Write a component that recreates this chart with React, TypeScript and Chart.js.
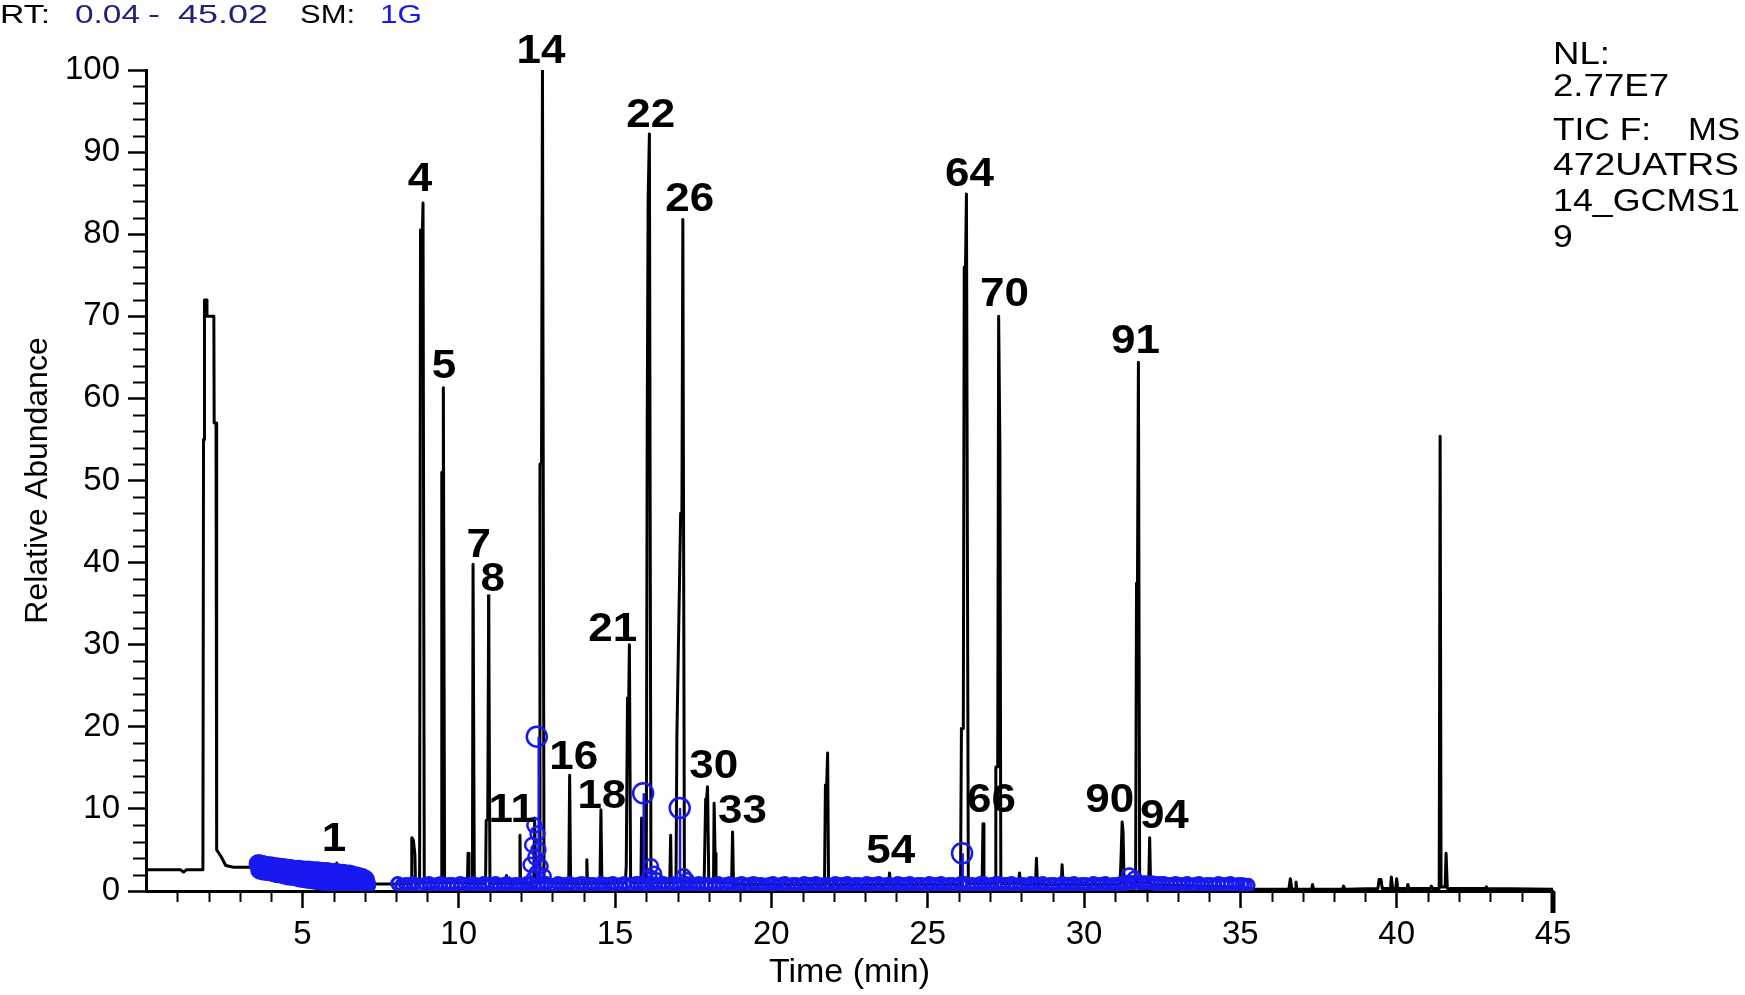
import React, { useEffect, useRef } from 'react';
import { Chart, registerables } from 'chart.js';

Chart.register(...registerables);

const FONT = '"Liberation Sans", Arial, Helvetica, sans-serif';
const BLUE = '#1818f0';
const NAVY = '#22207e';

// ---- axis ranges ----
const xMin = 0;
const xMax = 45;
const xMajorStep = 5;
const xMinorStep = 1;
const yMin = 0;
const yMax = 100;
const yMajorStep = 10;
const yMinorStep = 2;

// ---- TIC trace: [retention time (min), relative abundance] ----
const tracePoints: [number, number][] = [
  [0.05, 2.6], [1.1, 2.6], [1.2, 2.3], [1.3, 2.6], [1.82, 2.6], [1.84, 55], [1.86, 55], [1.87, 72],
  [1.93, 72], [1.95, 70], [2.17, 70], [2.18, 57], [2.24, 57], [2.26, 5], [2.4, 4.2], [2.55, 3.1],
  [2.8, 2.9], [3.5, 2.9], [3.8, 2.6], [4.5, 2.2], [5.5, 1.8], [6.05, 1.6], [6.1, 3.4], [6.15, 1.5],
  [6.9, 1.0], [7.3, 0.85], [8.0, 0.85], [8.48, 0.9], [8.5, 6.5], [8.55, 6.2], [8.6, 4.5], [8.62, 0.9],
  [8.75, 0.9], [8.78, 80.5], [8.84, 80.5], [8.86, 83.8], [8.9, 1.0], [9.45, 1.0], [9.46, 51], [9.5, 51],
  [9.51, 61.3], [9.55, 1.0], [10.28, 1.0], [10.3, 4.6], [10.33, 0.9], [10.44, 0.9], [10.46, 39.8], [10.5, 0.9],
  [10.86, 0.9], [10.88, 8.6], [10.93, 8.6], [10.96, 36.1], [11.0, 0.9], [11.5, 0.9], [11.53, 1.9], [11.56, 0.9],
  [11.94, 0.9], [11.96, 6.8], [11.98, 0.9], [12.4, 0.9], [12.43, 8.9], [12.47, 1.0], [12.58, 1.0], [12.6, 52],
  [12.65, 52], [12.68, 100], [12.73, 1.0], [13.52, 0.9], [13.55, 14.1], [13.58, 0.9], [14.08, 0.9], [14.1, 3.8],
  [14.12, 0.9], [14.52, 0.9], [14.55, 9.9], [14.58, 0.9], [15.33, 1.0], [15.36, 3.0], [15.4, 23.5], [15.44, 23.5],
  [15.46, 30], [15.5, 1.0], [15.83, 1.0], [15.85, 8.9], [15.88, 1.0], [16.0, 1.0], [16.03, 56.5], [16.06, 84.4],
  [16.08, 84.4], [16.1, 92.2], [16.15, 1.0], [16.75, 1.0], [16.78, 6.8], [16.8, 1.0], [16.95, 1.0], [16.98, 19],
  [17.1, 46], [17.14, 46], [17.17, 81.8], [17.22, 1.0], [17.85, 1.0], [17.9, 11.2], [17.93, 11.2], [17.96, 12.7],
  [18.0, 1.0], [18.15, 1.0], [18.17, 10.7], [18.2, 4.6], [18.23, 1.0], [18.73, 1.0], [18.76, 7.2], [18.79, 0.8],
  [21.7, 0.8], [21.73, 12.9], [21.77, 12.9], [21.8, 16.8], [21.83, 0.8], [23.75, 0.8], [23.78, 2.2], [23.81, 0.8],
  [26.05, 0.8], [26.08, 19.8], [26.14, 19.8], [26.17, 76], [26.21, 76], [26.24, 84.9], [26.3, 0.9], [26.74, 0.9],
  [26.77, 8.2], [26.8, 0.9], [27.16, 0.9], [27.18, 15.1], [27.24, 15.1], [27.27, 70], [27.31, 54], [27.34, 0.9],
  [27.9, 0.9], [27.94, 2.2], [27.97, 0.8], [28.45, 0.8], [28.48, 4.0], [28.51, 0.8], [29.27, 0.8], [29.3, 3.2],
  [29.33, 0.8], [31.15, 0.8], [31.18, 3.5], [31.22, 8.4], [31.25, 7.2], [31.28, 1.0], [31.65, 1.0], [31.68, 37.5],
  [31.71, 37.5], [31.74, 64.4], [31.78, 1.0], [32.07, 1.0], [32.1, 6.5], [32.13, 0.8], [35.0, 0.5], [35.5, 0.2],
  [36.55, 0.2], [36.6, 1.5], [36.65, 0.2], [36.75, 0.2], [36.78, 1.1], [36.81, 0.2], [37.28, 0.2], [37.31, 0.8],
  [37.34, 0.2], [38.27, 0.2], [38.3, 0.6], [38.35, 0.2], [39.4, 0.3], [39.44, 1.4], [39.5, 1.4], [39.54, 0.3],
  [39.8, 0.3], [39.83, 1.7], [39.87, 0.3], [39.97, 0.3], [40.0, 1.5], [40.03, 0.3], [40.33, 0.3], [40.36, 0.8],
  [40.39, 0.3], [41.08, 0.3], [41.11, 0.6], [41.14, 0.3], [41.36, 0.3], [41.39, 55.4], [41.42, 0.5], [41.55, 0.5],
  [41.58, 4.6], [41.62, 0.3], [42.84, 0.3], [42.87, 0.5], [42.9, 0.3], [45.0, 0.2],
];

// ---- integration markers (blue circles) ----
const bandUpperMarks: [number, number][] = [
  [3.6, 3.3], [3.7, 3.2], [3.8, 3.1], [3.9, 3.0], [4.0, 3.0], [4.1, 2.9], [4.2, 2.9], [4.3, 2.8],
  [4.4, 2.8], [4.5, 2.7], [4.6, 2.7], [4.7, 2.6], [4.8, 2.6], [4.9, 2.6], [5.0, 2.5], [5.1, 2.5],
  [5.2, 2.5], [5.3, 2.4], [5.4, 2.4], [5.5, 2.4], [5.6, 2.3], [5.7, 2.3], [5.8, 2.3], [5.9, 2.2],
  [6.0, 2.2], [6.1, 2.2], [6.2, 2.1], [6.3, 2.1], [6.4, 2.0], [6.5, 2.0], [6.6, 1.9], [6.7, 1.8],
  [6.8, 1.7], [6.9, 1.6], [7.0, 1.4],
];
const bandLowerMarks: [number, number][] = [
  [3.65, 2.6], [3.75, 2.5], [3.85, 2.45], [3.95, 2.4], [4.05, 2.3], [4.15, 2.2], [4.25, 2.15], [4.35, 2.1],
  [4.45, 2.0], [4.55, 1.9], [4.65, 1.85], [4.75, 1.8], [4.85, 1.7], [4.95, 1.6], [5.05, 1.55], [5.15, 1.5],
  [5.25, 1.45], [5.35, 1.4], [5.45, 1.35], [5.55, 1.3], [5.65, 1.25], [5.75, 1.2], [5.85, 1.1], [5.95, 1.0],
  [6.05, 0.95], [6.15, 0.9], [6.25, 0.85], [6.35, 0.8], [6.45, 0.8], [6.55, 0.8], [6.65, 0.75], [6.75, 0.7],
  [6.85, 0.7], [6.95, 0.7], [7.05, 0.8],
];
const baselineMarks: [number, number][] = [
  [8.05, 0.9], [8.3, 0.8], [8.55, 0.9], [8.8, 0.7], [9.05, 0.9], [9.3, 0.8], [9.55, 0.7], [9.8, 0.8],
  [10.05, 0.9], [10.3, 0.7], [10.55, 0.8], [10.8, 0.9], [11.05, 0.8], [11.3, 0.7], [11.55, 0.9], [11.8, 0.8],
  [12.05, 0.7], [12.3, 0.9], [12.55, 0.8], [12.8, 0.9], [13.05, 0.7], [13.3, 0.8], [13.55, 0.9], [13.8, 0.8],
  [14.05, 0.7], [14.3, 0.8], [14.55, 0.9], [14.8, 0.8], [15.05, 0.7], [15.3, 0.9], [15.55, 0.8], [15.8, 0.9],
  [16.05, 0.7], [16.3, 0.8], [16.55, 0.9], [16.8, 0.8], [17.05, 0.7], [17.3, 0.9], [17.55, 0.8], [17.8, 0.8],
  [18.05, 0.7], [18.3, 0.9], [18.55, 0.8], [18.8, 0.7], [19.05, 0.9], [19.3, 0.8], [19.55, 0.8], [19.8, 0.7],
  [20.05, 0.9], [20.3, 0.8], [20.55, 0.7], [20.8, 0.8], [21.05, 0.9], [21.3, 0.8], [21.55, 0.7], [21.8, 0.8],
  [22.05, 0.9], [22.3, 0.8], [22.55, 0.7], [22.8, 0.8], [23.05, 0.9], [23.3, 0.8], [23.55, 0.7], [23.8, 0.8],
  [24.05, 0.9], [24.3, 0.8], [24.55, 0.7], [24.8, 0.8], [25.05, 0.9], [25.3, 0.8], [25.55, 0.7], [25.8, 0.8],
  [26.05, 0.9], [26.3, 0.8], [26.55, 0.7], [26.8, 0.9], [27.05, 0.8], [27.3, 0.9], [27.55, 0.8], [27.8, 0.7],
  [28.05, 0.8], [28.3, 0.9], [28.55, 0.8], [28.8, 0.7], [29.05, 0.8], [29.3, 0.9], [29.55, 0.8], [29.8, 0.7],
  [30.05, 0.8], [30.3, 0.9], [30.55, 0.8], [30.8, 0.7], [31.05, 0.8], [31.3, 0.9], [31.55, 1.0], [31.8, 1.0],
  [32.05, 1.0], [32.3, 0.9], [32.55, 0.9], [32.8, 0.8], [33.05, 0.8], [33.3, 0.9], [33.55, 0.8], [33.8, 0.7],
  [34.05, 0.8], [34.3, 0.9], [34.55, 0.8], [34.8, 0.7], [35.05, 0.8], [35.25, 0.7],
];
const baselineMarksOffset: [number, number][] = [
  [8.18, 0.7], [8.43, 0.8], [8.68, 0.6], [8.93, 0.8], [9.18, 0.7], [9.43, 0.9], [9.68, 0.8], [9.93, 0.7],
  [10.18, 0.8], [10.43, 0.9], [10.68, 0.7], [10.93, 0.8], [11.18, 0.9], [11.43, 0.8], [11.68, 0.7], [11.93, 0.8],
  [12.18, 0.9], [12.43, 0.7], [12.68, 0.8], [12.93, 0.7], [13.18, 0.9], [13.43, 0.8], [13.68, 0.7], [13.93, 0.9],
  [14.18, 0.8], [14.43, 0.7], [14.68, 0.8], [14.93, 0.9], [15.18, 0.8], [15.43, 0.7], [15.68, 0.9], [15.93, 0.8],
  [16.18, 0.9], [16.43, 0.7], [16.68, 0.8], [16.93, 0.9], [17.18, 0.8], [17.43, 0.7], [17.68, 0.9], [17.93, 0.8],
  [18.18, 0.8], [18.43, 0.7], [18.68, 0.9], [18.93, 0.8], [19.18, 0.7], [19.43, 0.9], [19.68, 0.8], [19.93, 0.8],
  [20.18, 0.7], [20.43, 0.9], [20.68, 0.8], [20.93, 0.7], [21.18, 0.8], [21.43, 0.9], [21.68, 0.8], [21.93, 0.7],
  [22.18, 0.8], [22.43, 0.9], [22.68, 0.8], [22.93, 0.7], [23.18, 0.8], [23.43, 0.9], [23.68, 0.8], [23.93, 0.7],
  [24.18, 0.8], [24.43, 0.9], [24.68, 0.8], [24.93, 0.7], [25.18, 0.8], [25.43, 0.9], [25.68, 0.8], [25.93, 0.7],
  [26.18, 0.9], [26.43, 0.8], [26.68, 0.9], [26.93, 0.7], [27.18, 0.9], [27.43, 0.8], [27.68, 0.9], [27.93, 0.8],
  [28.18, 0.7], [28.43, 0.8], [28.68, 0.9], [28.93, 0.8], [29.18, 0.7], [29.43, 0.8], [29.68, 0.9], [29.93, 0.8],
  [30.18, 0.7], [30.43, 0.8], [30.68, 0.9], [30.93, 0.8], [31.18, 0.9], [31.43, 1.1], [31.68, 1.1], [31.93, 1.0],
  [32.18, 1.0], [32.43, 0.9], [32.68, 0.8], [32.93, 0.9], [33.18, 0.8], [33.43, 0.7], [33.68, 0.9], [33.93, 0.8],
  [34.18, 0.7], [34.43, 0.8], [34.68, 0.9], [34.93, 0.8], [35.15, 0.7],
];
const clusterMarks: [number, number][] = [
  [12.3, 3.2], [12.35, 5.6], [12.4, 1.5], [12.42, 8.0], [12.45, 4.1], [12.5, 2.2], [12.52, 7.0],
  [12.55, 5.0], [12.62, 3.0], [12.72, 1.8],
  [16.1, 1.7], [16.15, 3.0], [16.25, 2.1], [16.32, 1.3], [17.2, 1.8], [17.3, 1.3],
  [31.45, 1.9], [31.62, 1.5],
];
const topMarks: [number, number][] = [
  [12.5, 18.8], [15.9, 11.9], [17.07, 10.1], [26.1, 4.6],
];
const stemTime = [12.56, 15.92, 17.08, 26.12];
const stemTop = [18.8, 11.9, 10.1, 4.6];
const stemBase = [0.8, 1.0, 1.0, 1.0];

// ---- peak numbers and where their labels sit ----
const peakNames = ['1', '4', '5', '7', '8', '11', '14', '16', '18', '21', '22', '26', '30', '33', '54', '64', '66', '70', '90', '91', '94'];
const peakLabelTime = [6.01, 8.76, 9.53, 10.64, 11.09, 11.7, 12.63, 13.68, 14.58, 14.93, 16.14, 17.39, 18.16, 19.08, 23.82, 26.34, 27.04, 27.46, 30.82, 31.65, 32.57];
const peakLabelAbund = [6.2, 86.6, 63.8, 42.0, 37.9, 9.7, 102.2, 16.2, 11.5, 31.8, 94.4, 84.2, 15.1, 9.6, 4.8, 87.2, 11.0, 72.6, 11.0, 66.9, 9.0];

// ---- header and instrument info text ----
const headerParts = ['RT:', '0.04', '-', '45.02', 'SM:', '1G'];
const headerColors = ['#000', NAVY, NAVY, NAVY, '#000', BLUE];
const headerX = [0, 75, 148, 178, 300, 380];
const headerW = [50, 65, 12, 90, 55, 42];
const infoLines = ['NL:', '2.77E7', 'TIC F:', '472UATRS', '14_GCMS1', '9'];
const infoWidths = [57, 116, 98, 186, 187, 0];
const infoY = [55, 87, 131, 166, 202, 238];
const infoRightText = 'MS';

const toXY = (pts: [number, number][]) => pts.map(([x, y]) => ({ x, y }));

const markerDataset = (pts: [number, number][], radius: number, bw: number) => ({
  data: toXY(pts),
  showLine: false,
  pointStyle: 'circle',
  pointRadius: radius,
  pointBorderWidth: bw,
  pointBorderColor: BLUE,
  pointBackgroundColor: 'rgba(0,0,0,0)',
  order: 0,
});

// near-black shades split the trace stroke into short runs around the crowded 10.8-12.5 min region
const segColor = (c: any) => {
  const x0 = c.p0.parsed.x;
  if (x0 >= 10.8 && x0 < 10.9) return '#010101';
  if (x0 >= 10.9 && x0 < 10.95) return '#020202';
  if (x0 >= 10.95 && x0 < 11.2) return '#030303';
  if (x0 >= 11.2 && x0 < 12.0) return '#040404';
  if (x0 >= 12.0 && x0 < 12.5) return '#050505';
  return '#000000';
};

const decorPlugin = {
  id: 'decor',
  afterDraw(chart: any) {
    const { ctx, scales } = chart;
    const xs = scales.x;
    const ys = scales.y;
    ctx.save();
    // minor ticks
    ctx.strokeStyle = '#000';
    ctx.lineWidth = 2;
    ctx.beginPath();
    for (let v = yMin; v <= yMax; v += yMinorStep) {
      if (v % yMajorStep === 0) continue;
      const py = Math.round(ys.getPixelForValue(v)) + 0.5;
      ctx.moveTo(xs.left - 13, py);
      ctx.lineTo(xs.left, py);
    }
    for (let t = xMin; t <= xMax; t += xMinorStep) {
      if (t % xMajorStep === 0) continue;
      const px = Math.round(xs.getPixelForValue(t)) + 0.5;
      ctx.moveTo(px, ys.bottom);
      ctx.lineTo(px, ys.bottom + 11);
    }
    ctx.stroke();
    // end tick at 45
    ctx.lineWidth = 5;
    ctx.beginPath();
    const pEnd = xs.getPixelForValue(xMax);
    ctx.moveTo(pEnd, ys.bottom);
    ctx.lineTo(pEnd, ys.bottom + 22);
    ctx.stroke();

    // peak labels
    ctx.font = `bold 40px ${FONT}`;
    ctx.textAlign = 'center';
    ctx.textBaseline = 'middle';
    peakNames.forEach((name, i) => {
      const px = xs.getPixelForValue(peakLabelTime[i]);
      const py = ys.getPixelForValue(peakLabelAbund[i]);
      ctx.save();
      ctx.fillStyle = '#000';
      ctx.translate(px, py);
      ctx.scale(1.1, 1);
      ctx.fillText(name, 0, 0);
      ctx.restore();
    });

    // header
    ctx.textAlign = 'left';
    ctx.font = `26px ${FONT}`;
    headerParts.forEach((txt, i) => {
      const w = ctx.measureText(txt).width;
      ctx.save();
      ctx.fillStyle = headerColors[i];
      ctx.translate(headerX[i], 16);
      ctx.scale(headerW[i] / w, 1);
      ctx.fillText(txt, 0, 0);
      ctx.restore();
    });

    // instrument info block
    ctx.font = `31px ${FONT}`;
    ctx.fillStyle = '#000';
    infoLines.forEach((txt, i) => {
      const w = ctx.measureText(txt).width;
      const sx = infoWidths[i] ? infoWidths[i] / w : 1.15;
      ctx.save();
      ctx.translate(1553, infoY[i]);
      ctx.scale(sx, 1);
      ctx.fillText(txt, 0, 0);
      ctx.restore();
    });
    {
      const w = ctx.measureText(infoRightText).width;
      ctx.save();
      ctx.translate(1740, infoY[2]);
      ctx.scale(52 / w, 1);
      ctx.textAlign = 'right';
      ctx.fillText(infoRightText, 0, 0);
      ctx.restore();
    }
    ctx.restore();
  },
};

export default function App() {
  const ref = useRef<HTMLCanvasElement>(null);
  useEffect(() => {
    if (!ref.current) return;
    const stemData: any[] = [];
    stemTime.forEach((t, i) => {
      stemData.push({ x: t, y: stemTop[i] }, { x: t, y: stemBase[i] }, { x: t + 0.001, y: null });
    });
    const chart = new Chart(ref.current, {
      type: 'line',
      data: {
        datasets: [
          markerDataset(topMarks, 10, 2.5),
          markerDataset(clusterMarks, 7, 2.5),
          markerDataset(bandUpperMarks, 8, 4),
          markerDataset(bandLowerMarks, 8, 4),
          markerDataset(baselineMarks, 6, 3),
          markerDataset(baselineMarksOffset, 6, 3),
          {
            data: stemData,
            borderColor: BLUE,
            borderWidth: 2.5,
            pointRadius: 0,
            spanGaps: false,
            order: 1,
          },
          {
            data: toXY(tracePoints),
            borderColor: '#000',
            borderWidth: 3,
            borderJoinStyle: 'round',
            segment: { borderColor: segColor },
            pointRadius: 0,
            tension: 0,
            fill: false,
            order: 5,
          },
        ] as any,
      },
      options: {
        responsive: false,
        animation: false,
        devicePixelRatio: 1,
        layout: { padding: { top: 70, right: 192, left: 0, bottom: 0 } },
        plugins: { legend: { display: false }, tooltip: { enabled: false } },
        scales: {
          x: {
            type: 'linear',
            min: xMin,
            max: xMax,
            ticks: {
              stepSize: xMajorStep,
              autoSkip: false,
              maxRotation: 0,
              color: '#000',
              padding: 7,
              font: { family: FONT, size: 33 },
              callback: (v: any) => (v === 0 ? '' : String(v)),
            },
            grid: {
              drawOnChartArea: false,
              drawTicks: true,
              tickLength: 17,
              tickWidth: 2.5,
              tickColor: (c: any) => (c.tick && c.tick.value === 0 ? 'rgba(0,0,0,0)' : '#000'),
            },
            border: { display: true, color: '#000', width: 3 },
            title: {
              display: true,
              text: 'Time (min)',
              color: '#000',
              font: { family: FONT, size: 34 },
              padding: { top: 0, bottom: 2 },
            },
            afterFit: (s: any) => {
              s.height = 104;
            },
          },
          y: {
            type: 'linear',
            min: yMin,
            max: yMax,
            ticks: {
              stepSize: yMajorStep,
              autoSkip: false,
              color: '#000',
              padding: 8,
              font: { family: FONT, size: 33 },
            },
            grid: {
              drawOnChartArea: false,
              drawTicks: true,
              tickLength: 18,
              tickWidth: 2.5,
              tickColor: '#000',
            },
            border: { display: true, color: '#000', width: 3 },
            title: {
              display: true,
              text: 'Relative Abundance',
              color: '#000',
              font: { family: FONT, size: 32 },
              padding: { top: 19, bottom: 0 },
            },
            afterFit: (s: any) => {
              s.width = 146;
            },
          },
        },
      } as any,
      plugins: [decorPlugin],
    });
    return () => chart.destroy();
  }, []);
  return (
    <div style={{ position: 'fixed', left: 0, top: 0, width: 1745, height: 995, background: '#fff' }}>
      <canvas ref={ref} width={1745} height={995} style={{ width: 1745, height: 995, display: 'block' }} />
    </div>
  );
}
